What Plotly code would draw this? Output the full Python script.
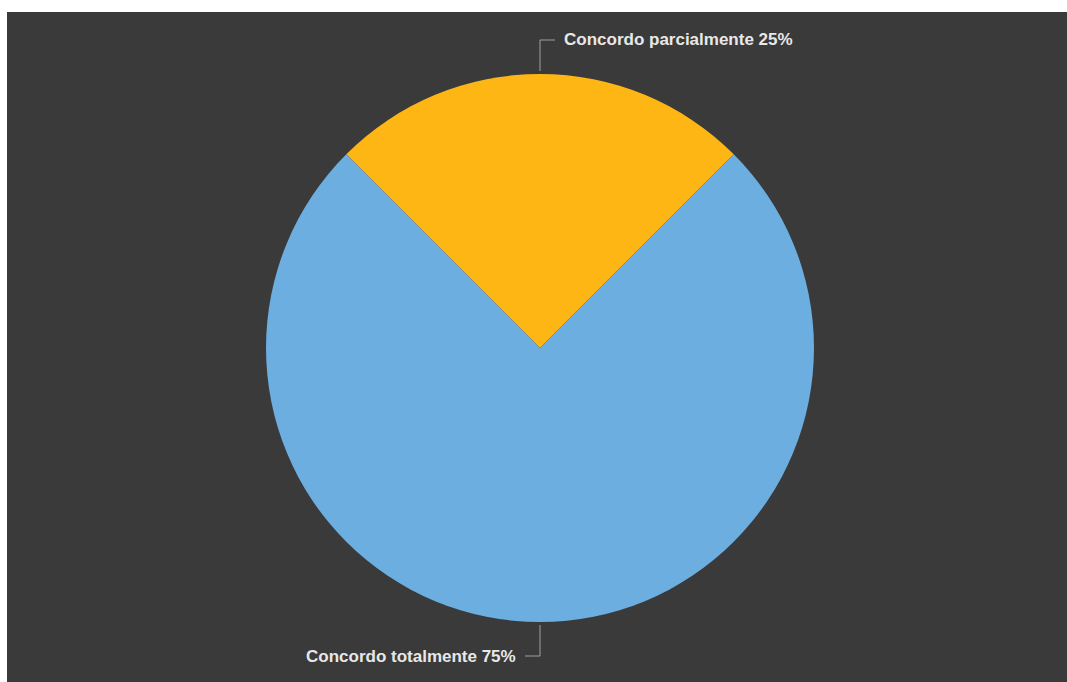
import math
import plotly.graph_objects as go

# Survey answers and their shares (%)
labels = ["Concordo parcialmente", "Concordo totalmente"]
values = [25, 75]
colors = ["#FDB614", "#6CAEDF"]

# Canvas geometry (px)
W, H = 1067, 682
ML, MT, MR, MB = 7, 12, 0, 0
PW, PH = W - ML - MR, H - MT - MB
CX, CY, R = 540, 348, 274          # pie centre and radius
ROTATION = -45

BG = "#3A3A3A"
TEXT = "#E8E8E8"
LEADER = "#A0A0A0"


def to_paper(px, py):
    return (px - ML) / PW, 1 - (py - MT) / PH


dx0, dy1 = to_paper(CX - R, CY - R)
dx1, dy0 = to_paper(CX + R, CY + R)

fig = go.Figure(
    go.Pie(
        labels=labels,
        values=values,
        sort=False,
        direction="clockwise",
        rotation=ROTATION,
        marker=dict(colors=colors, line=dict(width=0)),
        textinfo="none",
        hoverinfo="label+percent",
        showlegend=False,
        domain=dict(x=[dx0, dx1], y=[dy0, dy1]),
    )
)

# Elbow leader lines and outside labels, placed at each slice's mid angle
shapes = [
    dict(type="rect", xref="paper", yref="paper", x0=0, x1=1, y0=0, y1=1,
         fillcolor=BG, line=dict(width=0), layer="below")
]
annotations = []
total = sum(values)
cum = 0
for lab, v in zip(labels, values):
    mid = math.radians(ROTATION + 360 * (cum + v / 2) / total)
    cum += v
    sx, sy = math.sin(mid), -math.cos(mid)
    p0 = (CX + (R + 3) * sx, CY + (R + 3) * sy)
    p1 = (p0[0], CY + (R + 34) * sy)
    side = 1 if sy < 0 else -1
    p2 = (p1[0] + 15 * side, p1[1])
    pts = [to_paper(*p) for p in (p0, p1, p2)]
    path = "M {} {} L {} {} L {} {}".format(
        pts[0][0], pts[0][1], pts[1][0], pts[1][1], pts[2][0], pts[2][1])
    shapes.append(dict(type="path", xref="paper", yref="paper", path=path,
                       line=dict(color=LEADER, width=1)))
    tx, ty = to_paper(p2[0] + 7 * side, p2[1])
    annotations.append(dict(
        x=tx, y=ty, xref="paper", yref="paper",
        text=f"{lab} {round(100 * v / total)}%",
        showarrow=False,
        xanchor="left" if side > 0 else "right",
        yanchor="middle",
        font=dict(family="Liberation Sans", size=17, color=TEXT, weight="bold"),
    ))

fig.update_layout(
    width=W,
    height=H,
    margin=dict(l=ML, t=MT, r=MR, b=MB, pad=0),
    paper_bgcolor="white",
    shapes=shapes,
    annotations=annotations,
)

fig.write_html("out.html")
